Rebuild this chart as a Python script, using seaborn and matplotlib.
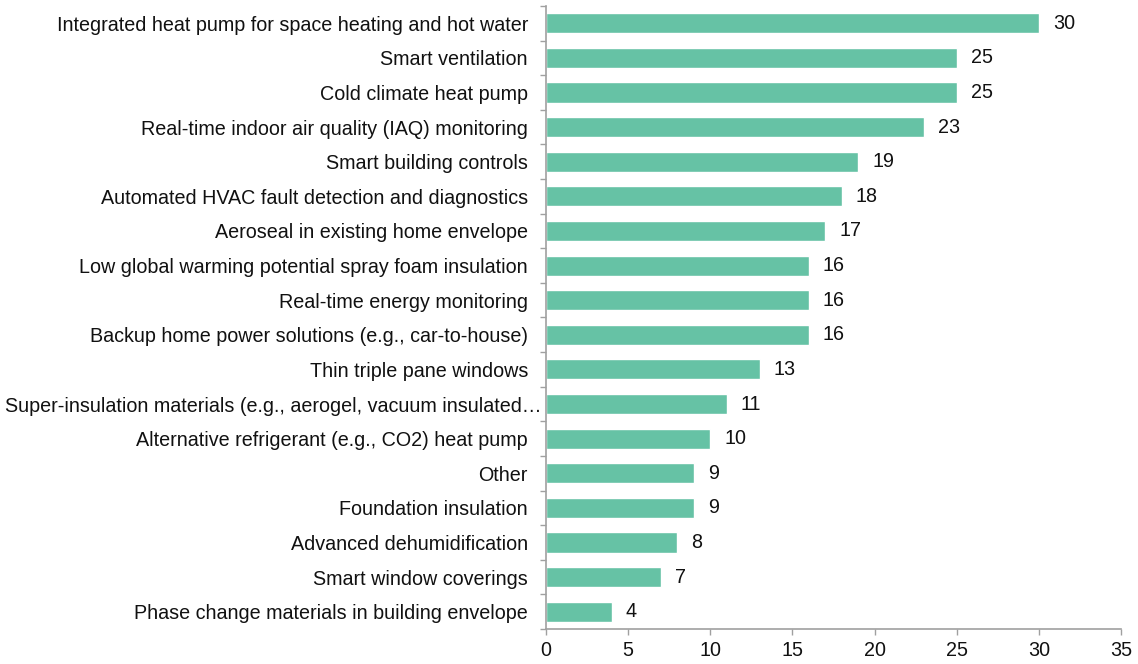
import numpy as np
import pandas as pd
import matplotlib
matplotlib.use("Agg")
import matplotlib.pyplot as plt
import matplotlib.transforms as mtransforms
import seaborn as sns

categories = [
    "Integrated heat pump for space heating and hot water",
    "Smart ventilation",
    "Cold climate heat pump",
    "Real-time indoor air quality (IAQ) monitoring",
    "Smart building controls",
    "Automated HVAC fault detection and diagnostics",
    "Aeroseal in existing home envelope",
    "Low global warming potential spray foam insulation",
    "Real-time energy monitoring",
    "Backup home power solutions (e.g., car-to-house)",
    "Thin triple pane windows",
    "Super-insulation materials (e.g., aerogel, vacuum insulated\u2026",
    "Alternative refrigerant (e.g., CO2) heat pump",
    "Other",
    "Foundation insulation",
    "Advanced dehumidification",
    "Smart window coverings",
    "Phase change materials in building envelope",
]
values = [30, 25, 25, 23, 19, 18, 17, 16, 16, 16, 13, 11, 10, 9, 9, 8, 7, 4]
x_ticks = [0, 5, 10, 15, 20, 25, 30, 35]

df = pd.DataFrame({"tech": categories, "count": values})

sns.set_style("white")
plt.rcParams["font.family"] = ["Liberation Sans", "DejaVu Sans"]
fs = 14.2

fig = plt.figure(figsize=(11.38, 6.64), dpi=100)
ax = fig.add_axes([546 / 1138, 1 - 629 / 664, (1121 - 546) / 1138, (629 - 6) / 664])

sns.barplot(data=df, x="count", y="tech", color="#66c2a5", width=0.58,
            saturation=1, ax=ax)

for i, v in enumerate(values):
    ax.text(v + 0.85, i, str(v), va="center", ha="left", fontsize=fs, color="#111111")

ax.set_xlim(0, 35)
ax.set_ylim(len(categories) - 0.5, -0.5)
ax.set_xticks(x_ticks)
ax.set_xticklabels([str(t) for t in x_ticks], fontsize=fs)
ax.set_xlabel("")
ax.set_ylabel("")
ax.tick_params(axis="y", which="major", length=0, labelsize=fs, pad=13)
ax.set_yticks(np.arange(-0.5, len(categories)), minor=True)
ax.tick_params(axis="y", which="minor", left=True, length=4, color="#a0a0a0", width=1)
ax.tick_params(axis="x", which="major", length=4, color="#a0a0a0", width=1,
               bottom=True, pad=5)
for lab in ax.get_yticklabels() + ax.get_xticklabels():
    lab.set_color("#111111")

# the truncated label runs up to the axis line in the original
long_lab = ax.get_yticklabels()[categories.index(categories[11])]
shift = mtransforms.ScaledTranslation(14 / 100, 0, fig.dpi_scale_trans)
long_lab.set_transform(long_lab.get_transform() + shift)

sns.despine(ax=ax, top=True, right=True)
for s in ("left", "bottom"):
    ax.spines[s].set_color("#a0a0a0")
    ax.spines[s].set_linewidth(1.2)

fig.savefig("out.png", dpi=100)
